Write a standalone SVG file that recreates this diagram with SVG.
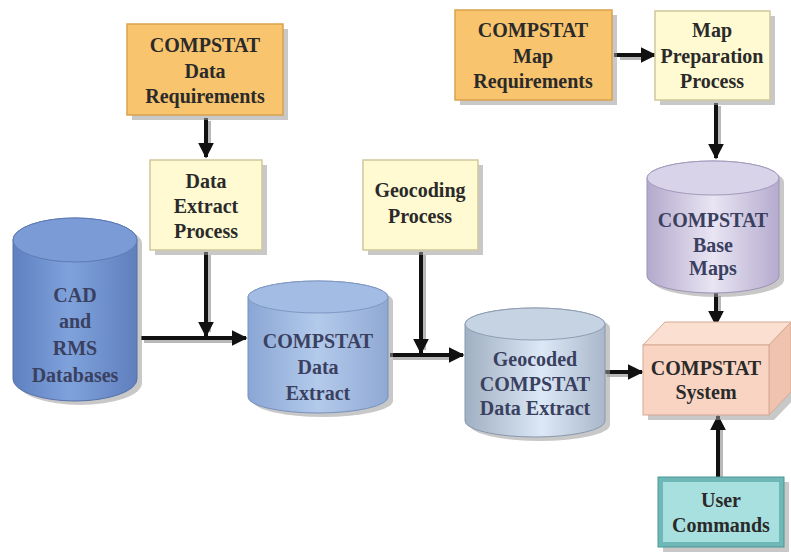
<svg xmlns="http://www.w3.org/2000/svg" width="791" height="554" viewBox="0 0 791 554">
<defs>
<style>
.t{font-family:"Liberation Serif","Times New Roman",serif;font-weight:bold;font-size:20px;text-anchor:middle;fill:#2a2a2a}
.tb{font-family:"Liberation Serif","Times New Roman",serif;font-weight:bold;font-size:20px;text-anchor:middle;fill:#3a4060}
.sh{fill:#9a9a9a;opacity:0.55}
.org{fill:#F8C46E;stroke:#D9A24E;stroke-width:1.5}
.yel{fill:#FFFAD2;stroke:#CFC79A;stroke-width:1.5}
.ln{stroke:#111;stroke-width:4;fill:none}
.lsh{stroke:#b8b8b8;stroke-width:4;fill:none}
</style>
<marker id="ah" viewBox="0 0 10 10" refX="9" refY="5" markerWidth="4" markerHeight="4" markerUnits="strokeWidth" orient="auto">
<path d="M0,0 L10,5 L0,10 z" fill="#111"/>
</marker>
<linearGradient id="gCad" x1="0" y1="0" x2="1" y2="0">
<stop offset="0" stop-color="#5E80C0"/><stop offset="0.45" stop-color="#7FA2DC"/><stop offset="1" stop-color="#5F7FBD"/>
</linearGradient>
<linearGradient id="gDe" x1="0" y1="0" x2="1" y2="0">
<stop offset="0" stop-color="#8AA6D4"/><stop offset="0.5" stop-color="#B3CAEB"/><stop offset="1" stop-color="#90A9D3"/>
</linearGradient>
<linearGradient id="gGeo" x1="0" y1="0" x2="1" y2="0">
<stop offset="0" stop-color="#A0AFC2"/><stop offset="0.55" stop-color="#DCE8F6"/><stop offset="1" stop-color="#A9B7CA"/>
</linearGradient>
<linearGradient id="gBase" x1="0" y1="0" x2="1" y2="0">
<stop offset="0" stop-color="#B3A9CC"/><stop offset="0.5" stop-color="#E9E5F3"/><stop offset="1" stop-color="#B5ABCE"/>
</linearGradient>
</defs>
<rect width="791" height="554" fill="#ffffff"/>

<g id="connectors">
<g class="lsh">
<line x1="209" y1="121" x2="209" y2="150"/>
<line x1="209" y1="255" x2="209" y2="332"/>
<line x1="144" y1="341" x2="238" y2="341"/>
<line x1="424" y1="255" x2="424" y2="350"/>
<line x1="393" y1="358" x2="454" y2="358"/>
<line x1="607" y1="375" x2="634" y2="375"/>
<line x1="620" y1="58" x2="646" y2="58"/>
<line x1="719" y1="106" x2="719" y2="150"/>
<line x1="719" y1="296" x2="719" y2="318"/>
<line x1="721" y1="479" x2="721" y2="425"/>
</g>
<line class="ln" x1="206" y1="118" x2="206" y2="157" marker-end="url(#ah)"/>
<line class="ln" x1="206" y1="252" x2="206" y2="336" marker-end="url(#ah)"/>
<line class="ln" x1="141" y1="338" x2="246" y2="338" marker-end="url(#ah)"/>
<line class="ln" x1="421" y1="252" x2="421" y2="353" marker-end="url(#ah)"/>
<line class="ln" x1="390" y1="355" x2="463" y2="355" marker-end="url(#ah)"/>
<line class="ln" x1="604" y1="372" x2="642" y2="372" marker-end="url(#ah)"/>
<line class="ln" x1="614" y1="55" x2="655" y2="55" marker-end="url(#ah)"/>
<line class="ln" x1="716" y1="103" x2="716" y2="158" marker-end="url(#ah)"/>
<line class="ln" x1="716" y1="293" x2="716" y2="325" marker-end="url(#ah)"/>
<line class="ln" x1="718" y1="477" x2="718" y2="416" marker-end="url(#ah)"/>
</g>

<g id="data-req">
<rect class="sh" x="132" y="29" width="156" height="91"/>
<rect class="org" x="127" y="24" width="156" height="91"/>
<text class="t" x="205" y="52">COMPSTAT</text>
<text class="t" x="205" y="78">Data</text>
<text class="t" x="205" y="103">Requirements</text>
</g>

<g id="data-extract-process">
<rect class="sh" x="155" y="165" width="112" height="90"/>
<rect class="yel" x="150" y="160" width="112" height="90"/>
<text class="t" x="206" y="188">Data</text>
<text class="t" x="206" y="213">Extract</text>
<text class="t" x="206" y="238">Process</text>
</g>

<g id="geocoding-process">
<rect class="sh" x="368" y="165" width="115" height="90"/>
<rect class="yel" x="363" y="160" width="115" height="90"/>
<text class="t" x="420" y="197">Geocoding</text>
<text class="t" x="420" y="223">Process</text>
</g>

<g id="map-req">
<rect class="sh" x="460" y="15" width="157" height="90"/>
<rect class="org" x="455" y="10" width="157" height="90"/>
<text class="t" x="533" y="37">COMPSTAT</text>
<text class="t" x="533" y="63">Map</text>
<text class="t" x="533" y="88">Requirements</text>
</g>

<g id="map-prep">
<rect class="sh" x="660" y="16" width="115" height="89"/>
<rect class="yel" x="655" y="11" width="115" height="89"/>
<text class="t" x="712" y="37">Map</text>
<text class="t" x="712" y="63">Preparation</text>
<text class="t" x="712" y="88">Process</text>
</g>

<g id="cad-rms">
<path class="sh" d="M18,244 A62,22 0 0 1 142,244 L142,383 A62,22 0 0 1 18,383 Z"/>
<path d="M13,240 A62,22 0 0 1 137,240 L137,379 A62,22 0 0 1 13,379 Z" fill="url(#gCad)" stroke="#5670A8" stroke-width="1"/>
<ellipse cx="75" cy="240" rx="62" ry="22" fill="#7A9BD6" stroke="#5E7BB5" stroke-width="1"/>
<text class="tb" x="75" y="302">CAD</text>
<text class="tb" x="75" y="328">and</text>
<text class="tb" x="75" y="355">RMS</text>
<text class="tb" x="75" y="382">Databases</text>
</g>

<g id="compstat-data-extract">
<path class="sh" d="M253,301 A70,16 0 0 1 393,301 L393,401 A70,16 0 0 1 253,401 Z"/>
<path d="M248,297 A70,16 0 0 1 388,297 L388,397 A70,16 0 0 1 248,397 Z" fill="url(#gDe)" stroke="#7890BC" stroke-width="1"/>
<ellipse cx="318" cy="297" rx="70" ry="16" fill="#A3BCE3" stroke="#7F98C4" stroke-width="1"/>
<text class="tb" x="318" y="348">COMPSTAT</text>
<text class="tb" x="318" y="374">Data</text>
<text class="tb" x="318" y="400">Extract</text>
</g>

<g id="geocoded-extract">
<path class="sh" d="M470,328 A70,16 0 0 1 610,328 L610,425 A70,16 0 0 1 470,425 Z"/>
<path d="M465,324 A70,16 0 0 1 605,324 L605,421 A70,16 0 0 1 465,421 Z" fill="url(#gGeo)" stroke="#8A98AC" stroke-width="1"/>
<ellipse cx="535" cy="324" rx="70" ry="16" fill="#C6D3E3" stroke="#909EB2" stroke-width="1"/>
<text class="tb" x="535" y="366">Geocoded</text>
<text class="tb" x="535" y="391">COMPSTAT</text>
<text class="tb" x="535" y="415">Data Extract</text>
</g>

<g id="base-maps">
<path class="sh" d="M652,182 A66,17 0 0 1 784,182 L784,280 A66,17 0 0 1 652,280 Z"/>
<path d="M647,178 A66,17 0 0 1 779,178 L779,276 A66,17 0 0 1 647,276 Z" fill="url(#gBase)" stroke="#9C93B5" stroke-width="1"/>
<ellipse cx="713" cy="178" rx="66" ry="17" fill="#D9D3EA" stroke="#A29ABB" stroke-width="1"/>
<text class="tb" x="713" y="227">COMPSTAT</text>
<text class="tb" x="713" y="252">Base</text>
<text class="tb" x="713" y="275">Maps</text>
</g>

<g id="compstat-system">
<polygon class="sh" points="648,350 774,350 796,327 796,397 774,420 648,420"/>
<polygon points="643,345 665,322 791,322 769,345" fill="#FBE0D2" stroke="#D5A994" stroke-width="1"/>
<polygon points="769,345 791,322 791,392 769,415" fill="#EFC3AE" stroke="#D5A994" stroke-width="1"/>
<rect x="643" y="345" width="126" height="70" fill="#F9D4C2" stroke="#D5A994" stroke-width="1"/>
<text class="t" x="706" y="375" fill="#3a2a2a">COMPSTAT</text>
<text class="t" x="706" y="399">System</text>
</g>

<g id="user-commands">
<rect class="sh" x="663" y="482" width="126" height="70"/>
<rect x="658" y="477" width="126" height="70" fill="#6FB8B8" stroke="#4F9696" stroke-width="1"/>
<rect x="663" y="482" width="116" height="60" fill="#A8E0E0"/>
<text class="t" x="721" y="507">User</text>
<text class="t" x="721" y="532">Commands</text>
</g>
</svg>
